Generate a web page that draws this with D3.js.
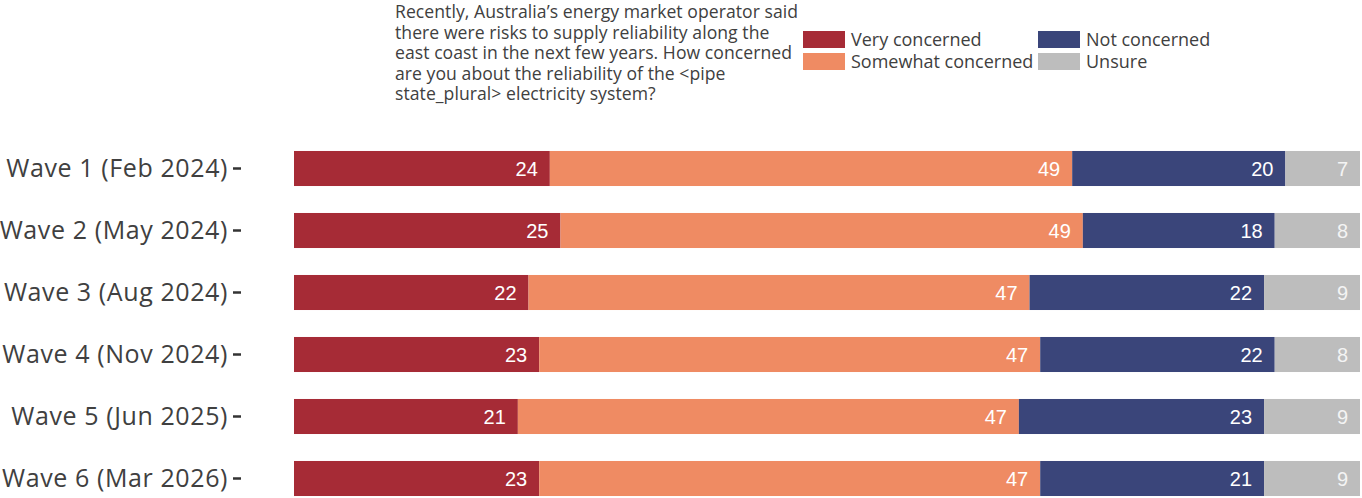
<!DOCTYPE html>
<html lang="en">
<head>
    <meta charset="UTF-8">
    <title>Electricity reliability concern</title>
    <script src="https://d3js.org/d3.v7.min.js"></script>
    <style>
        body { margin: 0; background: #fff; }
        .lbl { font-family: "Open Sans", Lato, sans-serif; fill: #404040; }
        .val { font-family: "Liberation Sans", Arial, sans-serif; font-size: 20px; }
    </style>
</head>
<body>
    <div class="canvas"></div>
    <script>
        // data
        let waves = ["Wave 1 (Feb 2024)", "Wave 2 (May 2024)", "Wave 3 (Aug 2024)",
            "Wave 4 (Nov 2024)", "Wave 5 (Jun 2025)", "Wave 6 (Mar 2026)"];
        let categories = ["Very concerned", "Somewhat concerned", "Not concerned", "Unsure"];
        let veryConcerned = [24, 25, 22, 23, 21, 23];
        let somewhatConcerned = [49, 49, 47, 47, 47, 47];
        let notConcerned = [20, 18, 22, 22, 23, 21];
        let unsure = [7, 8, 9, 8, 9, 9];
        let question = [
            "Recently, Australia\u2019s energy market operator said",
            "there were risks to supply reliability along the",
            "east coast in the next few years. How concerned",
            "are you about the reliability of the <pipe",
            "state_plural> electricity system?"
        ];

        let series = [veryConcerned, somewhatConcerned, notConcerned, unsure];
        let table = waves.map((w, i) => {
            let row = { wave: w };
            categories.forEach((c, j) => { row[c] = series[j][i]; });
            return row;
        });

        let width = 1362, height = 498;
        let colors = d3.scaleOrdinal()
            .domain(categories)
            .range(["#a62b36", "#ef8b63", "#3a457a", "#bdbdbd"]);
        let labelColors = ["#ffffff", "#ffffff", "#ffffff", "#f4f4f4"];

        let svg = d3.select(".canvas").append("svg")
            .attr("width", width)
            .attr("height", height);

        // scales
        let x = d3.scaleLinear().domain([0, 100]).range([294, 1360]);
        let y = d3.scaleBand().domain(waves).range([137.5, 509.5])
            .paddingInner(0.435).paddingOuter(0.2175);

        let stack = d3.stack().keys(categories)(table);

        // bars
        let layers = svg.append("g").selectAll("g").data(stack).enter().append("g")
            .attr("fill", d => colors(d.key));
        layers.selectAll("rect").data(d => d).enter().append("rect")
            .attr("x", d => x(d[0]))
            .attr("y", d => y(d.data.wave))
            .attr("width", d => x(d[1]) - x(d[0]))
            .attr("height", y.bandwidth());

        // values
        let valG = svg.append("g").selectAll("g").data(stack).enter().append("g")
            .attr("fill", (d, i) => labelColors[i]);
        valG.selectAll("text").data(d => d.map(v => ({ v: v, key: d.key }))).enter().append("text")
            .attr("class", "val")
            .attr("x", d => x(d.v[1]) - 12)
            .attr("y", d => y(d.v.data.wave) + y.bandwidth() / 2)
            .attr("dy", "0.36em")
            .attr("text-anchor", "end")
            .text(d => d.v.data[d.key]);

        // y axis
        let yAxis = svg.append("g")
            .attr("transform", "translate(241,0)")
            .call(d3.axisLeft(y).tickSize(8).tickPadding(5));
        yAxis.select(".domain").remove();
        yAxis.selectAll(".tick line").attr("stroke", "#333").attr("stroke-width", 2.5);
        yAxis.selectAll(".tick text")
            .attr("class", "lbl")
            .attr("font-size", 25)
            .attr("letter-spacing", "0.6px")
            .attr("dy", "0.35em");

        // question text
        svg.append("text").attr("class", "lbl")
            .attr("x", 395).attr("y", 18)
            .attr("font-size", 17.6)
            .attr("letter-spacing", "0.05px")
            .selectAll("tspan").data(question).enter().append("tspan")
            .attr("x", 395)
            .attr("dy", (d, i) => i === 0 ? 0 : 20.5)
            .text(d => d);

        // legend
        let legend = svg.append("g").selectAll("g").data(categories).enter().append("g")
            .attr("transform", (d, i) => "translate(" + (i < 2 ? 803 : 1038) + "," + (i % 2 === 0 ? 31 : 53) + ")");
        legend.append("rect")
            .attr("width", 42).attr("height", 17)
            .attr("fill", d => colors(d));
        legend.append("text").attr("class", "lbl")
            .attr("x", 48).attr("y", 9)
            .attr("dy", "0.35em")
            .attr("font-size", 18)
            .text(d => d);
    </script>
</body>
</html>
